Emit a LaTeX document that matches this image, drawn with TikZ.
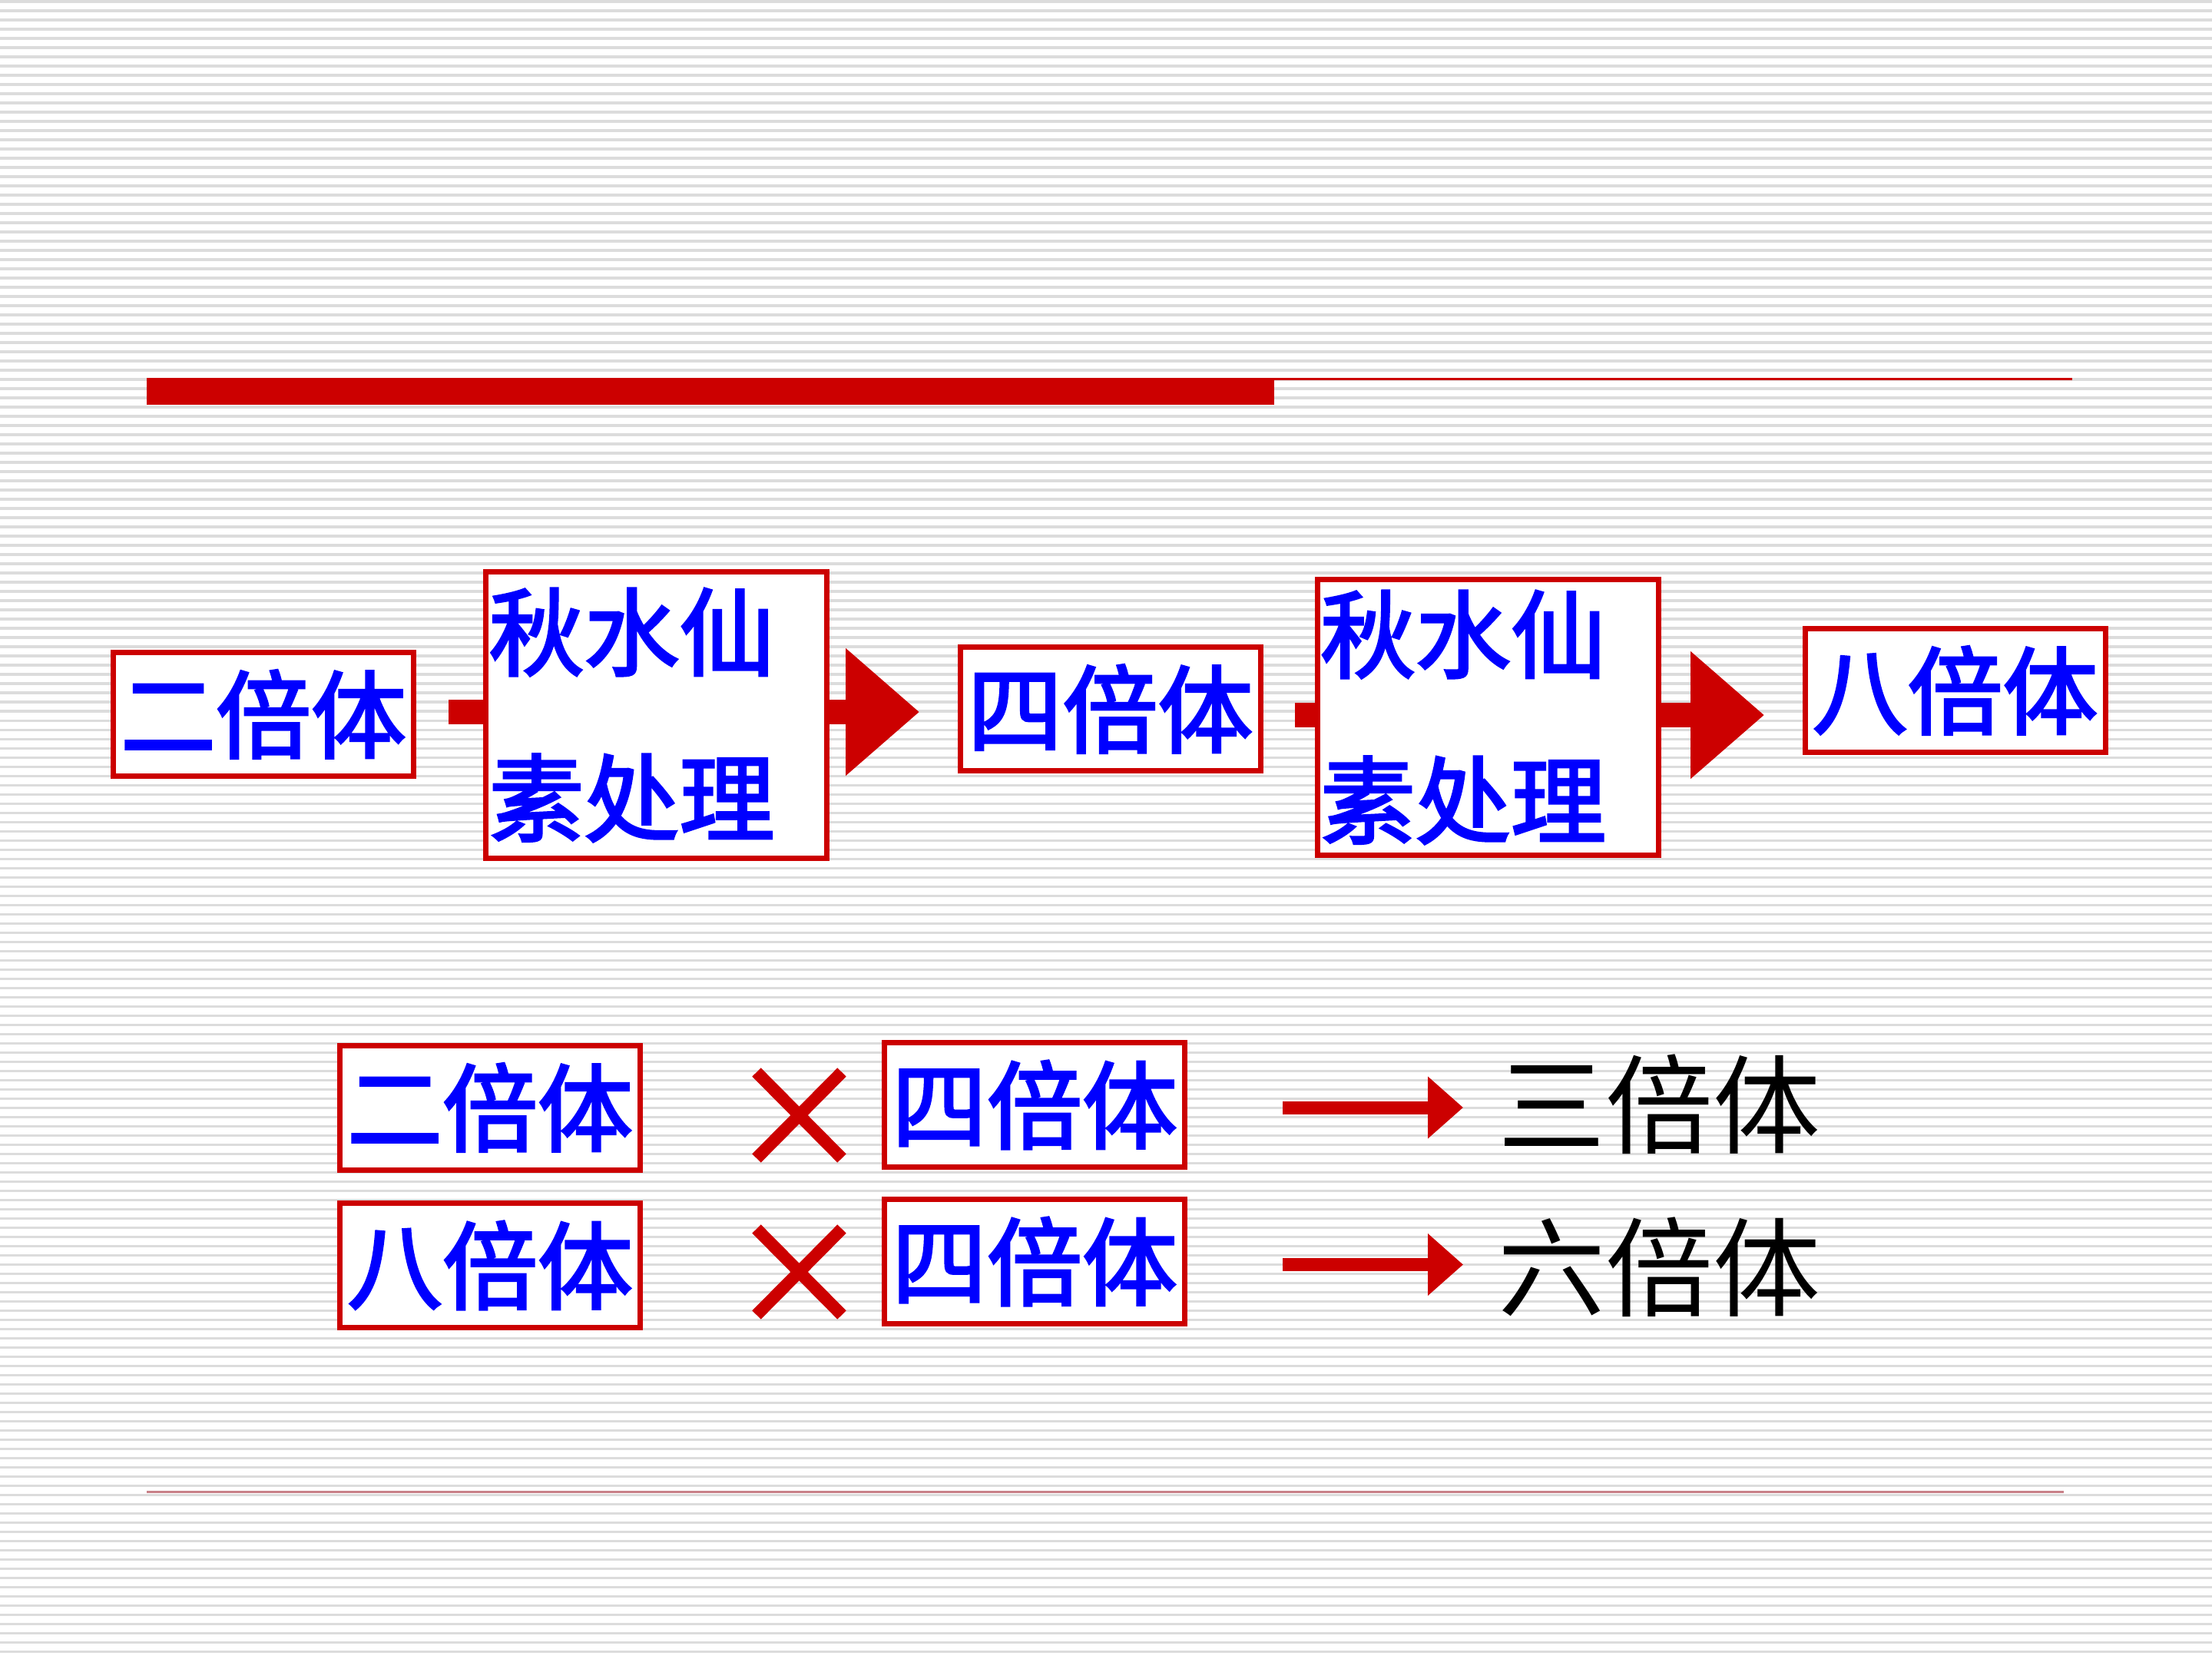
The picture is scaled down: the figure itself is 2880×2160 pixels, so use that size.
\documentclass[tikz,border=0pt]{standalone}
\usepackage{fontspec}
\usetikzlibrary{arrows.meta,calc}
\newfontfamily\cjk{Noto Sans CJK SC}
\newfontfamily\cjkmid[FakeBold=2.6]{Noto Sans CJK SC}
\definecolor{myred}{HTML}{CC0000}
\definecolor{myblue}{HTML}{0000FF}
\definecolor{stripegray}{HTML}{DCDCDC}
\definecolor{pinkline}{RGB}{200,128,136}
\newcommand\bluefont{\cjkmid\fontsize{31}{54}\selectfont}
\newcommand\blackfont{\cjk\fontsize{35}{40}\selectfont}
\pgfdeclarelayer{back}
\pgfdeclarelayer{arrowlayer}
\pgfsetlayers{back,arrowlayer,main}
\tikzset{
  redbox/.style={draw=myred, line width=1.75pt, fill=white, inner sep=0pt,
    font=\bluefont, text=myblue, minimum width=97.75pt, minimum height=40pt},
  tallbox/.style={redbox, minimum width=111pt, text width=109pt, inner xsep=1pt, align=left},
  bigarrow/.style={draw=myred, line width=8pt, -{Triangle[length=24pt,width=40pt]}},
  smallarrow/.style={draw=myred, line width=4.25pt, -{Triangle[length=11.5pt,width=19.5pt]}},
  xmark/.style={draw=myred, line width=4pt},
  plain/.style={font=\blackfont, text=black, inner sep=0pt},
}
\begin{document}
\begin{tikzpicture}[x=0.25pt, y=-0.25pt]
\useasboundingbox (0,0) rectangle (2880,2160);
\begin{pgfonlayer}{back}
  \fill[white] (0,0) rectangle (2880,2160);
  \foreach \i in {0,...,179} \fill[stripegray] (0,{\i*12+0.5}) rectangle (2880,{\i*12+4.3});
  \fill[myred] (191,492) rectangle (1659,527);
  \fill[myred] (1659,492) rectangle (2698,495);
  \fill[pinkline] (191,1941) rectangle (2687,1944);
\end{pgfonlayer}

% row 1
\node[redbox] (A) at (343,930) {二倍体};
\node[tallbox, minimum height=93.25pt] (B) at (854.5,931) {秋水仙\\素处理};
\node[redbox] (C) at (1445.5,923) {四倍体};
\node[tallbox, minimum height=89.75pt] (D) at (1937,934) {秋水仙\\素处理};
\node[redbox] (E) at (2545.5,899) {八倍体};

\coordinate (a1s) at (584,927);
\coordinate (a1e) at (1197,927);
\coordinate (a2s) at (1686,931);
\coordinate (a2e) at (2297,931);
\begin{pgfonlayer}{arrowlayer}
  \draw[bigarrow] (a1s) -- (a1e);
  \draw[bigarrow] (a2s) -- (a2e);
\end{pgfonlayer}

% row 2
\node[redbox, minimum height=40.5pt] (F) at (638,1442) {二倍体};
\node[redbox, minimum height=40.5pt] (G) at (1347,1438.5) {四倍体};
\node[plain] (T3) at (2160,1438) {三倍体};
\coordinate (x1a) at (985,1396); \coordinate (x1b) at (1096,1508);
\coordinate (x1c) at (1096,1396); \coordinate (x1d) at (985,1508);
\draw[xmark] (x1a) -- (x1b);
\draw[xmark] (x1c) -- (x1d);
\coordinate (r2s) at (1670,1442);
\coordinate (r2e) at (1905,1442);
\draw[smallarrow] (r2s) -- (r2e);

% row 3
\node[redbox, minimum height=40.5pt] (H) at (638,1647.5) {八倍体};
\node[redbox, minimum height=40.5pt] (I) at (1347,1642.5) {四倍体};
\node[plain] (T6) at (2160,1650) {六倍体};
\coordinate (x2a) at (985,1600); \coordinate (x2b) at (1096,1712);
\coordinate (x2c) at (1096,1600); \coordinate (x2d) at (985,1712);
\draw[xmark] (x2a) -- (x2b);
\draw[xmark] (x2c) -- (x2d);
\coordinate (r3s) at (1670,1646.5);
\coordinate (r3e) at (1905,1646.5);
\draw[smallarrow] (r3s) -- (r3e);
\end{tikzpicture}
\end{document}
